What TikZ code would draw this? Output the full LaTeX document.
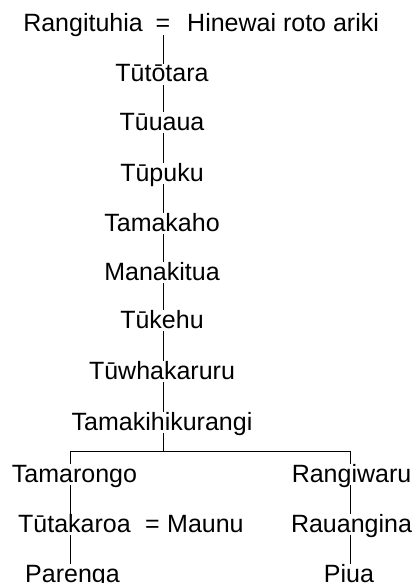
\documentclass[tikz,border=0pt]{standalone}
\usepackage{fontspec}
\setmainfont{Liberation Sans}
\begin{document}
\begin{tikzpicture}[x=1pt,y=-1pt,
  person/.style={font=\fontsize{25}{30}\selectfont, inner sep=0pt, text height=18pt, text depth=3pt, anchor=base},
  link/.style={line width=1pt, draw=black}]
\useasboundingbox (0,0) rectangle (412,583);
% trunk / column x positions
\coordinate (trunk) at (163,0);
\coordinate (lx) at (70,0);
\coordinate (rx) at (350,0);
\coordinate (bar) at (0,451);
% top couple
\node[person, anchor=base east] (rangi) at (143,32) {Rangituhia};
\node[person] (eq1) at (163,32) {=};
\node[person, anchor=base west] (hine) at (187,32) {Hinewai roto ariki};
% trunk
\node[person] (tutotara) at (162,82) {Tūtōtara};
\node[person] (tuuaua) at (162,130) {Tūuaua};
\node[person] (tupuku) at (162,181) {Tūpuku};
\node[person] (tamakaho) at (162,231) {Tamakaho};
\node[person] (manakitua) at (162,280) {Manakitua};
\node[person] (tukehu) at (162,328) {Tūkehu};
\node[person] (tuwhaka) at (162,379) {Tūwhakaruru};
\node[person] (tamaki) at (162,430) {Tamakihikurangi};
% left branch
\node[person] (tamarongo) at (74.5,482) {Tamarongo};
\node[person] (tutakaroa) at (74.5,532) {Tūtakaroa};
\node[person] (eq2) at (152.5,532) {=};
\node[person, anchor=base west] (maunu) at (167,532) {Maunu};
\node[person] (parenga) at (72.5,582) {Parenga};
% right branch
\node[person] (rangiwaru) at (351.5,482) {Rangiwaru};
\node[person] (rauangina) at (351.5,532) {Rauangina};
\node[person] (piua) at (349,582) {Piua};
% connectors
\draw[link] (trunk |- eq1.south) -- (trunk |- tutotara.north);
\draw[link] (trunk |- tutotara.south) -- (trunk |- tuuaua.north);
\draw[link] (trunk |- tuuaua.south) -- (trunk |- tupuku.north);
\draw[link] (trunk |- tupuku.south) -- (trunk |- tamakaho.north);
\draw[link] (trunk |- tamakaho.south) -- (trunk |- manakitua.north);
\draw[link] (trunk |- manakitua.south) -- (trunk |- tukehu.north);
\draw[link] (trunk |- tukehu.south) -- (trunk |- tuwhaka.north);
\draw[link] (trunk |- tuwhaka.south) -- (trunk |- tamaki.north);
\draw[link] (trunk |- tamaki.south) -- (trunk |- bar);
\draw[link] (lx |- tamarongo.north) -- (lx |- bar) -- (rx |- bar) -- (rx |- rangiwaru.north);
\draw[link] (lx |- tamarongo.south) -- (lx |- tutakaroa.north);
\draw[link] (lx |- tutakaroa.south) -- (lx |- parenga.north);
\draw[link] (rx |- rangiwaru.south) -- (rx |- rauangina.north);
\draw[link] (rx |- rauangina.south) -- (rx |- piua.north);
\end{tikzpicture}
\end{document}
